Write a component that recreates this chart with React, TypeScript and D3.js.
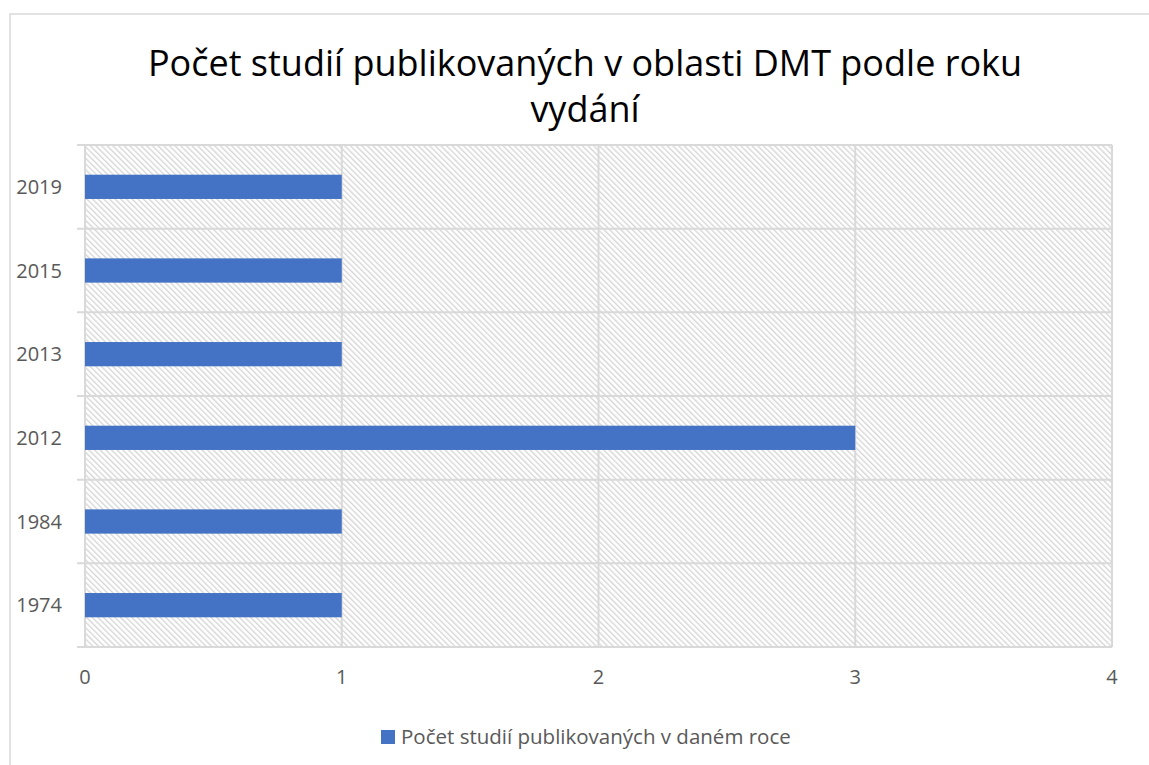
import React, { useEffect, useRef } from "react";
import * as d3 from "d3";

const years = ["2019", "2015", "2013", "2012", "1984", "1974"];
const counts = [1, 1, 1, 3, 1, 1];
const xTicks = [0, 1, 2, 3, 4];
const titleLines = ["Počet studií publikovaných v oblasti DMT podle roku", "vydání"];
const legendLabel = "Počet studií publikovaných v daném roce";

const W = 1149;
const H = 765;
const FONT = "'Open Sans', 'Noto Sans', sans-serif";

export default function App() {
  const ref = useRef<SVGSVGElement>(null);

  useEffect(() => {
    const svg = d3.select(ref.current);
    svg.selectAll("*").remove();

    const left = 85, right = 1112, top = 145, bottom = 647;
    const x = d3.scaleLinear().domain([0, 4]).range([left, right]);
    const y = d3.scaleBand().domain(years).range([top, bottom]).paddingInner(0.71).paddingOuter(0.355);

    const defs = svg.append("defs");
    const pat = defs.append("pattern")
      .attr("id", "hatch")
      .attr("patternUnits", "userSpaceOnUse")
      .attr("width", 4).attr("height", 4)
      .attr("patternTransform", "rotate(-45)");
    pat.append("rect").attr("width", 4).attr("height", 4).attr("fill", "#ffffff");
    pat.append("rect").attr("x", 0).attr("y", 0).attr("width", 1.3).attr("height", 4).attr("fill", "#d4d4d4");

    // outer frame
    svg.append("rect").attr("x", 10).attr("y", 14).attr("width", 1200).attr("height", 800)
      .attr("fill", "#fff").attr("stroke", "#d9d9d9").attr("stroke-width", 1.5);

    // title
    titleLines.forEach((t, i) => {
      svg.append("text").attr("x", 585).attr("y", 76 + i * 46)
        .attr("text-anchor", "middle").attr("font-family", FONT).attr("font-size", 36)
        .attr("fill", "#000").text(t);
    });

    // plot background hatch
    svg.append("rect").attr("x", left).attr("y", top).attr("width", right - left).attr("height", bottom - top)
      .attr("fill", "url(#hatch)");

    // grid vertical
    svg.append("g").selectAll("line").data(xTicks).join("line")
      .attr("x1", d => x(d)).attr("x2", d => x(d))
      .attr("y1", top).attr("y2", bottom)
      .attr("stroke", "#d9d9d9").attr("stroke-width", 2);

    // horizontal lines at band boundaries
    const step = (bottom - top) / years.length;
    const bounds = d3.range(years.length + 1).map(i => top + i * step);
    svg.append("g").selectAll("line").data(bounds).join("line")
      .attr("x1", left - 8).attr("x2", right)
      .attr("y1", d => d).attr("y2", d => d)
      .attr("stroke", "#d9d9d9").attr("stroke-width", 2);

    // bars
    svg.append("g").selectAll("rect").data(years).join("rect")
      .attr("x", x(0)).attr("y", d => y(d)!)
      .attr("width", (d, i) => x(counts[i]) - x(0))
      .attr("height", y.bandwidth())
      .attr("fill", "#4472c4");

    // y labels
    svg.append("g").selectAll("text").data(years).join("text")
      .attr("x", 62).attr("y", d => y(d)! + y.bandwidth() / 2)
      .attr("dy", "0.35em").attr("text-anchor", "end")
      .attr("font-family", FONT).attr("font-size", 20).attr("fill", "#595959")
      .text(d => d);

    // x labels
    svg.append("g").selectAll("text").data(xTicks).join("text")
      .attr("x", d => x(d)).attr("y", 677).attr("dy", "0.35em").attr("text-anchor", "middle")
      .attr("font-family", FONT).attr("font-size", 20).attr("fill", "#595959")
      .text(d => String(d));

    // legend
    svg.append("rect").attr("x", 381).attr("y", 730).attr("width", 14).attr("height", 14).attr("fill", "#4472c4");
    svg.append("text").attr("x", 401).attr("y", 737).attr("dy", "0.35em")
      .attr("font-family", FONT).attr("font-size", 20.5).attr("fill", "#595959").text(legendLabel);
  }, []);

  return (
    <svg ref={ref} width={W} height={H} style={{ position: "absolute", left: 0, top: 0 }} />
  );
}
